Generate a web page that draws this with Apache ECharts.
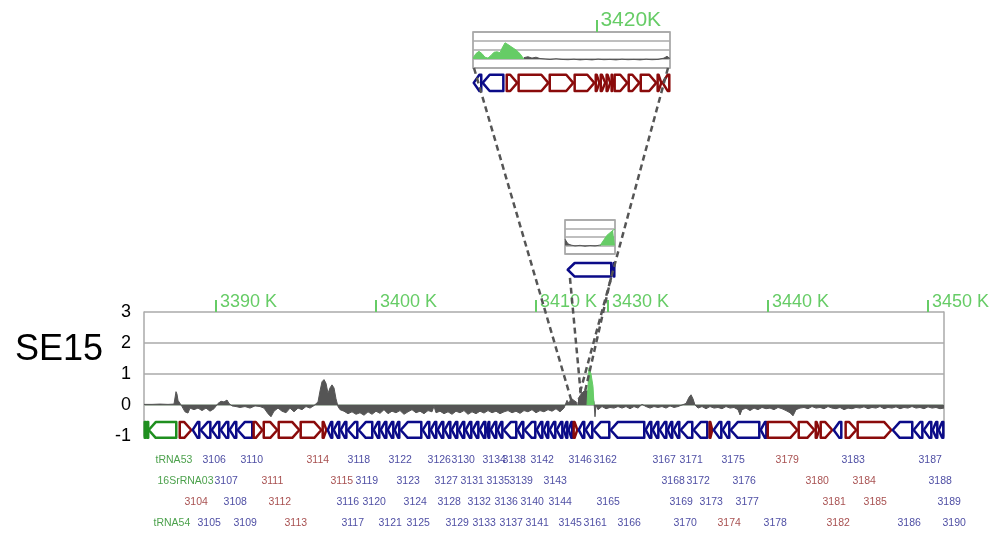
<!DOCTYPE html>
<html>
<head>
<meta charset="utf-8">
<script src="https://cdn.jsdelivr.net/npm/echarts@6/dist/echarts.min.js"></script>
<style>
  html, body { margin: 0; padding: 0; background: #fff; }
  #chart { width: 1004px; height: 537px; }
</style>
</head>
<body>
<div id="chart"></div>
<script>
// ranges shown (kb); the piece between left and right is pulled out into the two insets
const leftRange = [3385.5, 3412.625];
const rightRange = [3428.125, 3451];
const insetTopRange = [3412.625, 3424.4];
const insetMidRange = [3424.4, 3428.125];

const leftTicks = [3390, 3400, 3410];
const rightTicks = [3430, 3440, 3450];
const insetTicks = [3420];

// coverage [kb, value]
const leftSignal = [
  [3385.5, 0.02], [3386.0, 0.02], [3386.5, 0.03], [3387.0, 0.02], [3387.375, 0.03],
  [3387.5, 0.43], [3387.5625, 0.35], [3387.625, 0.15], [3387.75, 0.2], [3387.875, -0.05],
  [3388.0625, -0.22], [3388.25, -0.26], [3388.375, -0.1], [3388.625, -0.15], [3388.875, -0.1],
  [3389.125, -0.18], [3389.375, -0.1], [3389.625, -0.2], [3389.875, -0.12], [3390.125, 0.05],
  [3390.3125, 0.12], [3390.5, 0.1], [3390.6875, 0.16], [3390.8125, 0.05], [3391.0, -0.03],
  [3391.25, -0.05], [3391.5, -0.08], [3391.8125, -0.05], [3392.125, -0.1], [3392.4375, -0.03],
  [3392.75, -0.05], [3393.0, -0.1], [3393.25, -0.28], [3393.4375, -0.38], [3393.625, -0.2],
  [3393.875, -0.1], [3394.125, -0.2], [3394.375, -0.25], [3394.625, -0.1], [3394.875, -0.22],
  [3395.125, -0.1], [3395.375, -0.15], [3395.625, -0.05], [3395.875, -0.1], [3396.125, -0.02],
  [3396.375, 0.1], [3396.5, 0.45], [3396.625, 0.75], [3396.75, 0.82], [3396.875, 0.7],
  [3397.0, 0.38], [3397.125, 0.55], [3397.25, 0.65], [3397.375, 0.55], [3397.5, 0.2],
  [3397.625, -0.05], [3397.75, -0.15], [3398.0, -0.2], [3398.25, -0.28], [3398.5, -0.22],
  [3398.75, -0.3], [3399.0, -0.25], [3399.25, -0.33], [3399.5, -0.22], [3399.75, -0.3],
  [3400.0, -0.2], [3400.25, -0.27], [3400.5, -0.15], [3400.75, -0.28], [3401.0, -0.2],
  [3401.25, -0.25], [3401.5, -0.18], [3401.75, -0.3], [3402.0, -0.22], [3402.25, -0.15],
  [3402.5, -0.25], [3402.75, -0.2], [3403.0, -0.28], [3403.25, -0.18], [3403.5, -0.22],
  [3403.625, -0.04], [3403.75, -0.25], [3404.0, -0.2], [3404.25, -0.28], [3404.5, -0.22],
  [3404.75, -0.3], [3405.0, -0.2], [3405.25, -0.25], [3405.5, -0.18], [3405.75, -0.3],
  [3406.0, -0.22], [3406.25, -0.28], [3406.5, -0.2], [3406.75, -0.26], [3407.0, -0.18],
  [3407.25, -0.25], [3407.5, -0.2], [3407.75, -0.28], [3408.0, -0.22], [3408.25, -0.18],
  [3408.5, -0.25], [3408.75, -0.2], [3409.0, -0.27], [3409.25, -0.18], [3409.5, -0.22],
  [3409.75, -0.15], [3410.0, -0.25], [3410.25, -0.18], [3410.5, -0.22], [3410.75, -0.15],
  [3411.0, -0.2], [3411.25, -0.12], [3411.5, -0.22], [3411.75, -0.1], [3411.9375, 0.15],
  [3412.0625, 0.05], [3412.1875, 0.22], [3412.3125, 0.25], [3412.5, 0.1], [3412.625, 0.05]
];
const rightSignal = [
  [3428.125, 0.2], [3428.3125, 0.35], [3428.5, 0.45], [3428.625, 0.5], [3428.75, 0.45],
  [3428.9375, 0.4], [3429.125, 0.1], [3429.1875, -0.38], [3429.25, 0.0], [3429.375, -0.15],
  [3429.625, -0.05], [3429.875, -0.12], [3430.125, -0.08], [3430.375, -0.1], [3430.625, -0.05],
  [3430.875, -0.1], [3431.125, -0.05], [3431.375, -0.12], [3431.625, -0.05], [3431.875, -0.1],
  [3432.125, 0.02], [3432.375, -0.05], [3432.625, -0.1], [3432.875, -0.05], [3433.125, -0.08],
  [3433.375, -0.05], [3433.625, -0.1], [3433.875, -0.03], [3434.125, -0.08], [3434.375, -0.05],
  [3434.625, 0.0], [3434.875, 0.05], [3435.0625, 0.25], [3435.1875, 0.33], [3435.3125, 0.2],
  [3435.4375, 0.0], [3435.625, -0.1], [3435.875, -0.05], [3436.125, -0.12], [3436.375, -0.05],
  [3436.625, -0.1], [3436.875, -0.08], [3437.125, -0.12], [3437.375, -0.05], [3437.625, -0.1],
  [3437.875, -0.08], [3438.125, -0.15], [3438.25, -0.32], [3438.375, -0.15], [3438.625, -0.1],
  [3438.875, -0.18], [3439.125, -0.1], [3439.375, -0.15], [3439.625, -0.08], [3439.875, -0.12],
  [3440.125, -0.1], [3440.375, -0.15], [3440.625, -0.08], [3440.875, -0.12], [3441.125, -0.18],
  [3441.375, -0.25], [3441.5625, -0.35], [3441.75, -0.15], [3442.0, -0.1], [3442.25, -0.08],
  [3442.5, -0.12], [3442.75, -0.05], [3443.0, -0.1], [3443.25, -0.08], [3443.5, -0.12],
  [3443.75, -0.05], [3444.0, -0.1], [3444.25, -0.12], [3444.5, -0.08], [3444.75, -0.15],
  [3445.0, -0.1], [3445.25, -0.12], [3445.5, -0.08], [3445.75, -0.1], [3446.0, -0.06],
  [3446.25, -0.12], [3446.5, -0.08], [3446.75, -0.1], [3447.0, -0.05], [3447.25, -0.12],
  [3447.5, -0.08], [3447.75, -0.1], [3448.0, -0.06], [3448.25, -0.12], [3448.5, -0.08],
  [3448.75, -0.1], [3449.0, -0.05], [3449.25, -0.1], [3449.5, -0.08], [3449.75, -0.12],
  [3450.0, -0.06], [3450.25, -0.1], [3450.5, -0.08], [3450.75, -0.12], [3451.0, -0.1]
];
const rightGreen = [
  [3428.6875, 0], [3428.75, 0.6], [3428.8125, 1.2], [3428.9375, 1.0], [3429.0625, 0.6], [3429.125, 0]
];
const insetTopGreen = [
  [3412.625, 0.1], [3412.80, 0.6], [3412.98, 0.85], [3413.16, 0.6], [3413.34, 0.2],
  [3413.52, 0.1], [3413.70, 0.4], [3413.88, 0.75], [3414.06, 0.8], [3414.24, 0.7],
  [3414.36, 1.2], [3414.54, 1.8], [3414.72, 1.6], [3414.96, 1.3], [3415.20, 1.0],
  [3415.43, 0.6], [3415.55, 0.3], [3415.67, 0]
];
const insetTopSignal = [
  [3415.67, 0.15], [3415.91, 0.25], [3416.15, 0.1], [3416.39, 0.2], [3416.63, 0.05],
  [3416.93, 0.0], [3417.23, -0.05], [3417.59, 0.02], [3417.94, -0.05], [3418.30, -0.08],
  [3418.66, -0.03], [3419.02, -0.1], [3419.38, -0.05], [3419.74, -0.1], [3420.10, -0.02],
  [3420.45, -0.08], [3420.81, -0.05], [3421.17, -0.1], [3421.53, -0.03], [3421.89, -0.08],
  [3422.25, -0.05], [3422.61, -0.1], [3422.97, -0.03], [3423.32, -0.08], [3423.68, -0.05],
  [3424.04, 0.1], [3424.22, 0.3], [3424.40, 0.05]
];
const insetMidSignal = [
  [3424.40, 0.75], [3424.47, 0.7], [3424.62, 0.2], [3424.85, 0.05], [3425.15, -0.05],
  [3425.52, 0.02], [3425.89, -0.08], [3426.26, 0.0], [3426.64, -0.05], [3427.01, 0.05], [3427.08, 0.05]
];
const insetMidGreen = [
  [3427.01, 0], [3427.08, 0.2], [3427.31, 0.7], [3427.53, 1.2], [3427.75, 1.5], [3427.98, 1.8], [3428.125, 1.9]
];

// genes [start kb, end kb, strand, kind]  kind: b = minus-strand CDS, r = plus-strand CDS, g = RNA
const leftGenes = [
  [3385.5, 3385.625, 0, 'g'], [3385.656, 3385.75, 0, 'g'], [3385.75, 3387.56, -1, 'g'],
  [3387.69, 3388.5, 1, 'r'],
  [3388.5, 3389.0, -1, 'b'], [3389.0, 3389.69, -1, 'b'], [3389.69, 3390.25, -1, 'b'],
  [3390.25, 3390.81, -1, 'b'], [3390.81, 3391.31, -1, 'b'], [3391.31, 3392.31, -1, 'b'],
  [3392.31, 3392.94, 1, 'r'], [3392.94, 3393.875, 1, 'r'], [3393.875, 3395.25, 1, 'r'],
  [3395.25, 3396.625, 1, 'r'], [3396.625, 3396.94, 1, 'r'],
  [3396.94, 3397.31, -1, 'b'], [3397.31, 3397.75, -1, 'b'], [3397.75, 3398.19, -1, 'b'],
  [3398.19, 3398.875, -1, 'b'], [3398.875, 3399.81, -1, 'b'], [3399.81, 3400.25, -1, 'b'],
  [3400.25, 3400.69, -1, 'b'], [3400.69, 3401.125, -1, 'b'], [3401.125, 3401.5, -1, 'b'],
  [3401.5, 3402.875, -1, 'b'], [3402.875, 3403.375, -1, 'b'], [3403.375, 3403.81, -1, 'b'],
  [3403.81, 3404.25, -1, 'b'], [3404.25, 3404.69, -1, 'b'], [3404.69, 3405.125, -1, 'b'],
  [3405.125, 3405.56, -1, 'b'], [3405.56, 3406.0, -1, 'b'], [3406.0, 3406.44, -1, 'b'],
  [3406.44, 3406.875, -1, 'b'], [3406.875, 3407.125, -1, 'b'], [3407.125, 3407.56, -1, 'b'],
  [3407.56, 3407.94, -1, 'b'], [3407.94, 3408.81, -1, 'b'], [3408.81, 3409.25, -1, 'b'],
  [3409.25, 3410.0, -1, 'b'], [3410.0, 3410.44, -1, 'b'], [3410.44, 3410.81, -1, 'b'],
  [3410.81, 3411.25, -1, 'b'], [3411.25, 3411.69, -1, 'b'], [3411.69, 3412.0, -1, 'b'],
  [3412.0, 3412.31, -1, 'b'], [3412.31, 3412.625, 1, 'r']
];
const rightGenes = [
  [3428.125, 3428.56, -1, 'b'], [3428.56, 3429.06, -1, 'b'], [3429.06, 3430.125, -1, 'b'],
  [3430.125, 3432.31, -1, 'b'], [3432.31, 3432.75, -1, 'b'], [3432.75, 3433.19, -1, 'b'],
  [3433.19, 3433.69, -1, 'b'], [3433.69, 3434.06, -1, 'b'], [3434.06, 3434.5, -1, 'b'],
  [3434.5, 3435.31, -1, 'b'], [3435.31, 3436.25, -1, 'b'], [3436.31, 3436.56, 1, 'r'],
  [3436.56, 3437.125, -1, 'b'], [3437.125, 3437.625, -1, 'b'], [3437.625, 3439.5, -1, 'b'],
  [3439.5, 3439.94, -1, 'b'], [3439.94, 3441.875, 1, 'r'], [3441.875, 3442.94, 1, 'r'],
  [3442.94, 3443.25, 1, 'r'], [3443.25, 3444.06, 1, 'r'], [3444.06, 3444.625, -1, 'b'],
  [3444.81, 3445.56, 1, 'r'], [3445.56, 3447.75, 1, 'r'], [3447.75, 3449.06, -1, 'b'],
  [3449.06, 3449.69, -1, 'b'], [3449.69, 3450.25, -1, 'b'], [3450.25, 3450.625, -1, 'b'],
  [3450.625, 3451.0, -1, 'b']
];
const insetTopGenes = [
  [3412.625, 3413.16, -1, 'b'], [3413.16, 3414.48, -1, 'b'], [3414.60, 3415.31, 1, 'r'],
  [3415.31, 3417.17, 1, 'r'], [3417.17, 3418.66, 1, 'r'], [3418.66, 3419.92, 1, 'r'],
  [3419.92, 3420.22, 1, 'r'], [3420.22, 3420.57, 1, 'r'], [3420.57, 3420.87, 1, 'r'],
  [3420.87, 3421.05, 1, 'r'], [3421.05, 3421.89, 1, 'r'], [3421.89, 3422.61, 1, 'r'],
  [3422.61, 3423.62, 1, 'r'], [3423.62, 3423.92, 1, 'r'], [3423.92, 3424.4, -1, 'r']
];
const insetMidGenes = [
  [3424.55, 3427.90, -1, 'b'], [3427.90, 3428.125, -1, 'b']
];

// locus labels [text, kb, row, kind]
const locusLabels = [
  ['tRNA53', 3386.19, 1, 'g'], ['16SrRNA03', 3386.31, 2, 'g'], ['3104', 3388.0, 3, 'r'], ['tRNA54', 3386.06, 4, 'g'],
  ['3105', 3388.81, 4, 'b'], ['3106', 3389.125, 1, 'b'], ['3107', 3389.875, 2, 'b'], ['3108', 3390.44, 3, 'b'],
  ['3109', 3391.06, 4, 'b'], ['3110', 3391.5, 1, 'b'], ['3111', 3392.81, 2, 'r'], ['3112', 3393.25, 3, 'r'],
  ['3113', 3394.25, 4, 'r'], ['3114', 3395.625, 1, 'r'], ['3115', 3397.125, 2, 'r'], ['3116', 3397.5, 3, 'b'],
  ['3117', 3397.81, 4, 'b'], ['3118', 3398.19, 1, 'b'], ['3119', 3398.69, 2, 'b'], ['3120', 3399.125, 3, 'b'],
  ['3121', 3400.125, 4, 'b'], ['3122', 3400.75, 1, 'b'], ['3123', 3401.25, 2, 'b'], ['3124', 3401.69, 3, 'b'],
  ['3125', 3401.875, 4, 'b'], ['3126', 3403.19, 1, 'b'], ['3127', 3403.625, 2, 'b'], ['3128', 3403.81, 3, 'b'],
  ['3129', 3404.31, 4, 'b'], ['3130', 3404.69, 1, 'b'], ['3131', 3405.25, 2, 'b'], ['3132', 3405.69, 3, 'b'],
  ['3133', 3406.0, 4, 'b'], ['3134', 3406.625, 1, 'b'], ['3135', 3406.875, 2, 'b'], ['3136', 3407.375, 3, 'b'],
  ['3137', 3407.69, 4, 'b'], ['3138', 3407.875, 1, 'b'], ['3139', 3408.31, 2, 'b'], ['3140', 3409.0, 3, 'b'],
  ['3141', 3409.31, 4, 'b'], ['3142', 3409.625, 1, 'b'], ['3143', 3410.44, 2, 'b'], ['3144', 3410.75, 3, 'b'],
  ['3145', 3411.375, 4, 'b'], ['3146', 3412.0, 1, 'b'],
  ['3161', 3428.44, 4, 'b'], ['3162', 3429.06, 1, 'b'], ['3165', 3429.25, 3, 'b'], ['3166', 3430.56, 4, 'b'],
  ['3167', 3432.75, 1, 'b'], ['3168', 3433.31, 2, 'b'], ['3169', 3433.81, 3, 'b'], ['3170', 3434.06, 4, 'b'],
  ['3171', 3434.44, 1, 'b'], ['3172', 3434.875, 2, 'b'], ['3173', 3435.69, 3, 'b'], ['3174', 3436.81, 4, 'r'],
  ['3175', 3437.06, 1, 'b'], ['3176', 3437.75, 2, 'b'], ['3177', 3437.94, 3, 'b'], ['3178', 3439.69, 4, 'b'],
  ['3179', 3440.44, 1, 'r'], ['3180', 3442.31, 2, 'r'], ['3181', 3443.375, 3, 'r'], ['3182', 3443.625, 4, 'r'],
  ['3183', 3444.56, 1, 'b'], ['3184', 3445.25, 2, 'r'], ['3185', 3445.94, 3, 'r'], ['3186', 3448.06, 4, 'b'],
  ['3187', 3449.375, 1, 'b'], ['3188', 3450.0, 2, 'b'], ['3189', 3450.56, 3, 'b'], ['3190', 3450.875, 4, 'b']
];

const FONT = 'Liberation Sans, Arial, sans-serif';
const GREEN = '#66cc66';
const GRAY = '#555555';
const geneStroke = { b: '#0b0b88', r: '#8a0b0b', g: '#1f8f1f' };
const labelColor = { b: '#20208c', r: '#8e1e1e', g: '#1f8a1f' };

const chart = echarts.init(document.getElementById('chart'));

function kbAxis(grid, range, ticks, fmt, size) {
  return {
    type: 'value', gridIndex: grid, position: 'top', min: range[0], max: range[1],
    axisLine: { show: false, onZero: false }, splitLine: { show: false },
    axisTick: ticks ? { show: true, customValues: ticks, length: 12, lineStyle: { color: GREEN, width: 2 } } : { show: false },
    axisLabel: ticks ? {
      show: true, customValues: ticks, formatter: fmt, color: GREEN, fontSize: size, fontFamily: FONT,
      align: 'left', verticalAlign: 'bottom', margin: 1, padding: [0, 0, 0, 4]
    } : { show: false }
  };
}

function trackAxis(grid, opts) {
  return Object.assign({
    type: 'value', gridIndex: grid, min: -1, max: 3, interval: 1,
    axisTick: { show: false }, axisLabel: { show: false },
    axisLine: { show: false },
    splitLine: { show: true, lineStyle: { color: '#aaaaaa', width: 1.5 } }
  }, opts);
}

function signal(data, axis, color, z) {
  return {
    type: 'line', data: data, xAxisIndex: axis, yAxisIndex: axis, symbol: 'none', z: z || 3,
    lineStyle: { color: color, width: 1 }, areaStyle: { color: color, opacity: 1, origin: 0 },
    animation: false
  };
}

function genes(list, axis, yTop, yBot) {
  return {
    type: 'custom', xAxisIndex: axis, yAxisIndex: axis, clip: false, z: 2,
    data: list.map(g => [g[0], g[1]]),
    encode: { x: [0, 1] },
    renderItem: function (params, api) {
      const g = list[params.dataIndex];
      const a = api.coord([g[0], yTop]);
      const b = api.coord([g[1], yBot]);
      const x1 = a[0] + 0.7, x2 = Math.max(b[0] - 0.7, x1 + 1);
      const yt = a[1], yb = b[1], ym = (yt + yb) / 2;
      const hl = Math.min(7, (x2 - x1) * 0.75);
      let pts;
      if (g[2] > 0) pts = [[x1, yt], [x2 - hl, yt], [x2, ym], [x2 - hl, yb], [x1, yb]];
      else if (g[2] < 0) pts = [[x1, ym], [x1 + hl, yt], [x2, yt], [x2, yb], [x1 + hl, yb]];
      else pts = [[x1, yt], [x2, yt], [x2, yb], [x1, yb]];
      return {
        type: 'polygon', shape: { points: pts },
        style: { fill: '#ffffff', stroke: geneStroke[g[3]], lineWidth: 2.5, lineJoin: 'round' }
      };
    }
  };
}

function labelSeries(axis, inLeft) {
  return {
    type: 'scatter', xAxisIndex: axis, yAxisIndex: axis, symbolSize: 1,
    itemStyle: { color: 'rgba(0,0,0,0)' },
    data: locusLabels.filter(l => (l[1] < leftRange[1]) === inLeft).map(l => ({
      name: l[0], value: [l[1], l[2]], label: { color: labelColor[l[3]] }
    })),
    label: { show: true, position: 'right', distance: 0, formatter: p => p.name, fontSize: 10.5, fontFamily: FONT },
    labelLayout: { hideOverlap: false }
  };
}

const mainFmt = v => v + ' K';

chart.setOption({
  animation: false,
  title: { text: 'SE15', left: 10, top: 327, textStyle: { fontSize: 36, fontWeight: 'normal', color: '#000', fontFamily: FONT } },
  grid: [
    { left: 144, top: 312, width: 434, height: 124 },
    { left: 578, top: 312, width: 366, height: 124 },
    { left: 473, top: 32, width: 197, height: 36, show: true, borderColor: '#999', borderWidth: 1.5 },
    { left: 565, top: 220, width: 50, height: 34, show: true, borderColor: '#999', borderWidth: 1.5 },
    { left: 144, top: 450, width: 434, height: 84 },
    { left: 578, top: 450, width: 366, height: 84 }
  ],
  xAxis: [
    kbAxis(0, leftRange, leftTicks, mainFmt, 18),
    kbAxis(1, rightRange, rightTicks, mainFmt, 18),
    kbAxis(2, insetTopRange, insetTicks, v => v + 'K', 21),
    kbAxis(3, insetMidRange, null),
    kbAxis(4, leftRange, null),
    kbAxis(5, rightRange, null)
  ],
  yAxis: [
    trackAxis(0, {
      axisLine: { show: true, lineStyle: { color: '#aaaaaa', width: 1.5 } },
      axisLabel: { show: true, color: '#000', fontSize: 18, fontFamily: FONT, margin: 13 },
      splitLine: { show: true, lineStyle: { color: ['rgba(0,0,0,0)', '#8d9d8d', '#aaaaaa', '#aaaaaa', '#aaaaaa'], width: 1.5 } }
    }),
    trackAxis(1, {
      position: 'right',
      axisLine: { show: true, lineStyle: { color: '#aaaaaa', width: 1.5 } },
      splitLine: { show: true, lineStyle: { color: ['rgba(0,0,0,0)', '#8d9d8d', '#aaaaaa', '#aaaaaa', '#aaaaaa'], width: 1.5 } }
    }),
    trackAxis(2),
    trackAxis(3),
    { type: 'value', gridIndex: 4, min: 0.5, max: 4.5, inverse: true, show: false },
    { type: 'value', gridIndex: 5, min: 0.5, max: 4.5, inverse: true, show: false }
  ],
  series: [
    Object.assign(signal(leftSignal, 0, GRAY, 5), {
      markLine: {
        silent: true, symbol: 'none', animation: false, label: { show: false },
        lineStyle: { color: '#000', width: 2.5, type: 'solid' },
        data: [[{ coord: [3412.6, 0.8] }, { coord: [3412.6, -1.05] }]]
      }
    }),
    signal(rightSignal, 1, GRAY),
    signal(rightGreen, 1, GREEN, 4),
    signal(insetTopGreen, 2, GREEN),
    signal(insetTopSignal, 2, GRAY),
    signal(insetMidSignal, 3, GRAY),
    signal(insetMidGreen, 3, GREEN),
    genes(leftGenes, 0, -0.55, -1.06),
    genes(rightGenes, 1, -0.55, -1.06),
    genes(insetTopGenes, 2, -1.75, -3.55),
    genes(insetMidGenes, 3, -2.06, -3.65),
    labelSeries(4, true),
    labelSeries(5, false)
  ]
});

// dashed connectors from the insets down to the break point
const px = (i, p) => chart.convertToPixel({ xAxisIndex: i, yAxisIndex: i }, p);
const links = [
  [px(2, [3412.685, -1]), px(0, [3412.22, 0.13])],
  [px(2, [3424.28, -1]), px(1, [3428.19, 0.29])],
  [px(3, [3424.77, -3.8]), px(1, [3428.31, 0.29])],
  [px(3, [3427.83, -3.8]), px(1, [3428.5, 0.29])]
];
chart.setOption({
  graphic: links.map(l => ({
    type: 'line', z: 50, silent: true,
    shape: { x1: l[0][0], y1: l[0][1], x2: l[1][0], y2: l[1][1] },
    style: { stroke: '#555', lineWidth: 2.5, lineDash: [6, 4] }
  }))
});
</script>
</body>
</html>
